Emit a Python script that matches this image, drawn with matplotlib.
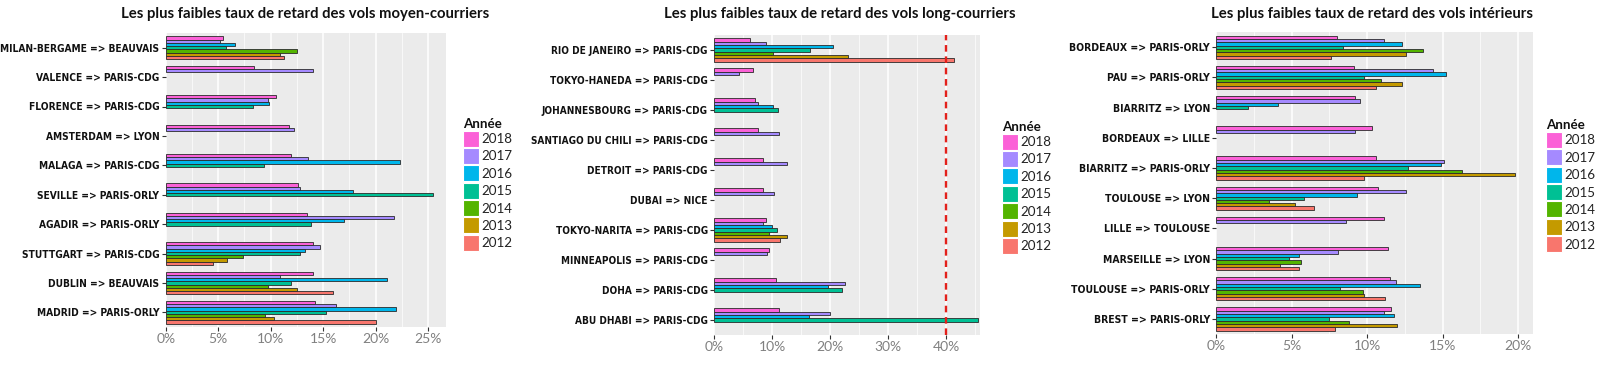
import numpy as np
import matplotlib
matplotlib.use('Agg')
import matplotlib.pyplot as plt
from matplotlib.patches import Rectangle
from matplotlib.ticker import FixedLocator
from matplotlib import font_manager
from matplotlib.font_manager import FontProperties

W, H = 1597, 376
nan = np.nan

years = ['2018', '2017', '2016', '2015', '2014', '2013', '2012']
year_colors = ['#FB61D7', '#A58AFF', '#00B6EB', '#00C094', '#53B400', '#C49A00', '#F8766D']

# ---- Panel 1 : moyen-courriers ----
title_moyen = "Les plus faibles taux de retard des vols moyen-courriers"
cats_moyen = ["MILAN-BERGAME => BEAUVAIS", "VALENCE => PARIS-CDG", "FLORENCE => PARIS-CDG",
              "AMSTERDAM => LYON", "MALAGA => PARIS-CDG", "SEVILLE => PARIS-ORLY",
              "AGADIR => PARIS-ORLY", "STUTTGART => PARIS-CDG", "DUBLIN => BEAUVAIS",
              "MADRID => PARIS-ORLY"]
moyen_2018 = [5.5, 8.4, 10.5, 11.7, 11.9, 12.6, 13.5, 14.0, 14.0, 14.2]
moyen_2017 = [5.2, 14.0, 9.7, 12.2, 13.6, 12.8, 21.7, 14.7, 10.9, 16.2]
moyen_2016 = [6.6, nan, 9.8, nan, 22.3, 17.8, 17.0, 13.3, 21.1, 21.9]
moyen_2015 = [5.7, nan, 8.3, nan, 9.4, 25.5, 13.8, 12.8, 11.9, 15.3]
moyen_2014 = [12.5, nan, nan, nan, nan, nan, nan, 7.4, 9.7, 9.5]
moyen_2013 = [10.9, nan, nan, nan, nan, nan, nan, 5.8, 12.5, 10.3]
moyen_2012 = [11.3, nan, nan, nan, nan, nan, nan, 4.5, 15.9, 20.0]
ticks_moyen = [0, 5, 10, 15, 20, 25]

# ---- Panel 2 : long-courriers ----
title_long = "Les plus faibles taux de retard des vols long-courriers"
cats_long = ["RIO DE JANEIRO => PARIS-CDG", "TOKYO-HANEDA => PARIS-CDG", "JOHANNESBOURG => PARIS-CDG",
             "SANTIAGO DU CHILI => PARIS-CDG", "DETROIT => PARIS-CDG", "DUBAI => NICE",
             "TOKYO-NARITA => PARIS-CDG", "MINNEAPOLIS => PARIS-CDG", "DOHA => PARIS-CDG",
             "ABU DHABI => PARIS-CDG"]
long_2018 = [6.2, 6.7, 7.0, 7.5, 8.4, 8.5, 9.0, 9.4, 10.6, 11.2]
long_2017 = [8.9, 4.3, 7.5, 11.2, 12.6, 10.4, 8.5, 9.2, 22.6, 19.9]
long_2016 = [20.5, nan, 10.2, nan, nan, nan, 10.0, nan, 19.6, 16.4]
long_2015 = [16.6, nan, 11.0, nan, nan, nan, 10.9, nan, 22.1, 45.5]
long_2014 = [10.1, nan, nan, nan, nan, nan, 9.5, nan, nan, nan]
long_2013 = [23.1, nan, nan, nan, nan, nan, 12.6, nan, nan, nan]
long_2012 = [41.3, nan, nan, nan, nan, nan, 11.4, nan, nan, nan]
ticks_long = [0, 10, 20, 30, 40]
threshold_long = 40

# ---- Panel 3 : intérieurs ----
title_int = "Les plus faibles taux de retard des vols intérieurs"
cats_int = ["BORDEAUX => PARIS-ORLY", "PAU => PARIS-ORLY", "BIARRITZ => LYON",
            "BORDEAUX => LILLE", "BIARRITZ => PARIS-ORLY", "TOULOUSE => LYON",
            "LILLE => TOULOUSE", "MARSEILLE => LYON", "TOULOUSE => PARIS-ORLY",
            "BREST => PARIS-ORLY"]
int_2018 = [8.0, 9.1, 9.2, 10.3, 10.6, 10.7, 11.1, 11.4, 11.5, 11.6]
int_2017 = [11.1, 14.4, 9.5, 9.2, 15.1, 12.6, 8.6, 8.1, 11.9, 11.1]
int_2016 = [12.3, 15.2, 4.1, nan, 14.9, 9.3, nan, 5.5, 13.5, 11.8]
int_2015 = [8.4, 9.8, 2.1, nan, 12.7, 5.8, nan, 4.8, 8.2, 7.5]
int_2014 = [13.7, 10.9, nan, nan, 16.3, 3.5, nan, 5.6, 9.7, 8.8]
int_2013 = [12.6, 12.3, nan, nan, 19.8, 5.2, nan, 4.2, 9.8, 12.0]
int_2012 = [7.6, 10.6, nan, nan, 9.8, 6.5, nan, 5.5, 11.2, 7.9]
ticks_int = [0, 5, 10, 15, 20]

legend_title = "Année"

FONT = 'Lato'

# pick a condensed bold face if one is installed, else Roboto bold
label_fp = FontProperties(family='Roboto', weight='bold')
_cands = [f for f in font_manager.fontManager.ttflist
          if f.stretch in ('condensed', 'semi-condensed', 'extra-condensed', 'ultra-condensed')
          and (f.weight in ('bold', 700) or f.weight == 700 or str(f.weight) in ('700', 'bold'))]
_pref = ['Noto Sans', 'Open Sans', 'DejaVu Sans', 'Roboto', 'Liberation Sans']
for name in _pref:
    hits = [f for f in _cands if f.name == name and f.style == 'normal']
    if hits:
        hits.sort(key=lambda f: ['semi-condensed', 'condensed', 'extra-condensed', 'ultra-condensed'].index(f.stretch))
        label_fp = FontProperties(fname=hits[0].fname)
        break

fig = plt.figure(figsize=(W / 100, H / 100), dpi=100)


def px_axes(l, r, t, b):
    return fig.add_axes([l / W, 1 - b / H, (r - l) / W, (b - t) / H])


def panel(ax, cats, series, xmax, ticks):
    ax.set_facecolor('#EBEBEB')
    n = len(cats)
    y = np.arange(n)
    group = 0.77
    bh = group / len(years)
    for i, (yr, col, vals) in enumerate(zip(years, year_colors, series)):
        v = np.array(vals, dtype=float)
        m = ~np.isnan(v)
        off = -group / 2 + bh * (i + 0.5)
        ax.barh(y[m] + off, v[m], height=bh, color=col, edgecolor='#2a2a2a',
                linewidth=0.6, zorder=3)
    ax.set_ylim(n - 0.5, -0.5)
    ax.set_xlim(0, xmax)
    ax.set_yticks(y)
    ax.set_yticklabels(cats, fontproperties=label_fp, color='#111111')
    for lab in ax.get_yticklabels():
        lab.set_fontsize(10)
    step = ticks[1] - ticks[0]
    ax.xaxis.set_major_locator(FixedLocator(ticks))
    ax.set_xticklabels([f"{t}%" for t in ticks], fontfamily=FONT, fontsize=10, color='#808080')
    minors = [t + step / 2 for t in ticks if t + step / 2 < xmax]
    ax.xaxis.set_minor_locator(FixedLocator(minors))
    ax.grid(which='major', axis='x', color='white', linewidth=1.1, zorder=0)
    ax.grid(which='minor', axis='x', color='white', linewidth=0.5, zorder=0)
    ax.set_axisbelow(True)
    for s in ax.spines.values():
        s.set_visible(False)
    ax.tick_params(axis='both', which='major', length=3, width=0.8, color='#333333', pad=1.5)
    ax.tick_params(axis='x', which='minor', length=0)


def fit_size(ax, index, target_px):
    fig.canvas.draw()
    r = fig.canvas.get_renderer()
    lab = ax.get_yticklabels()[index]
    w = lab.get_window_extent(renderer=r).width
    return lab.get_fontsize() * target_px / w


def legend(x, y):
    # x, y : pixel position (left, top) of the legend title
    fig.text(x / W, 1 - y / H, legend_title, fontfamily=FONT, fontweight='bold',
             fontsize=9.6, va='top', ha='left', color='#111111')
    key_top = y + 12.5
    for i, (yr, col) in enumerate(zip(years, year_colors)):
        t = key_top + i * 17.4
        fig.add_artist(Rectangle((x / W, 1 - (t + 16) / H), 16 / W, 16 / H,
                                 transform=fig.transFigure, facecolor=col,
                                 edgecolor='white', linewidth=0.8))
        fig.text((x + 18.5) / W, 1 - (t + 8.5) / H, yr, fontfamily=FONT, fontsize=9.6,
                 va='center', ha='left', color='#222222')


ax1 = px_axes(165.7, 446, 33, 327)
panel(ax1, cats_moyen, [moyen_2018, moyen_2017, moyen_2016, moyen_2015, moyen_2014, moyen_2013, moyen_2012],
      26.7, ticks_moyen)

ax2 = px_axes(714, 980, 35, 335)
panel(ax2, cats_long, [long_2018, long_2017, long_2016, long_2015, long_2014, long_2013, long_2012],
      45.8, ticks_long)
ax2.axvline(threshold_long, color='#E3201B', linewidth=1.7, linestyle=(0, (2.8, 2.0)), zorder=4)

ax3 = px_axes(1216.3, 1533, 32.2, 334)
panel(ax3, cats_int, [int_2018, int_2017, int_2016, int_2015, int_2014, int_2013, int_2012],
      21.0, ticks_int)

sizes = [fit_size(ax1, 0, 158), fit_size(ax2, 3, 175), fit_size(ax3, 8, 138)]
for ax, fs in zip([ax1, ax2, ax3], sizes):
    for lab in ax.get_yticklabels():
        lab.set_fontsize(fs)

for cx, title in [(305.5, title_moyen), (840, title_long), (1372, title_int)]:
    fig.text(cx / W, 1 - 14 / H, title, fontfamily=FONT, fontweight='bold', fontsize=10.7,
             ha='center', va='center', color='#111111')

legend(463, 118)
legend(1001.7, 121)
legend(1545.7, 119.3)

fig.savefig('out.png', dpi=100, facecolor='white')
